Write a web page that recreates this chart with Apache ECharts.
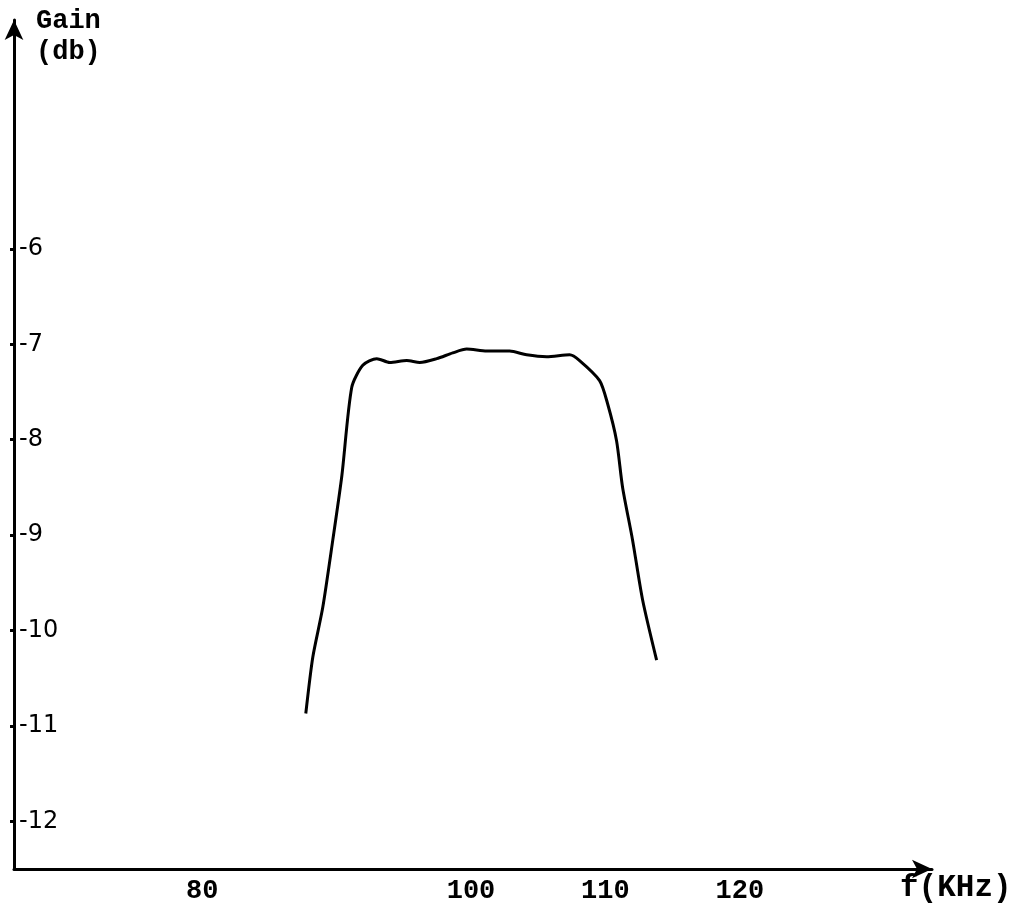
<!DOCTYPE html>
<html>
<head>
<meta charset="utf-8">
<script src="https://cdn.jsdelivr.net/npm/echarts@6/dist/echarts.min.js"></script>
<style>
  html, body { margin: 0; padding: 0; background: #fff; }
  #chart { width: 1034px; height: 914px; }
</style>
</head>
<body>
<div id="chart"></div>
<script>
// frequency (kHz) and gain (db)
const freq = [87.71, 88.23, 88.97, 89.72, 90.39, 91.13, 91.95, 92.99, 93.96,
    95.22, 96.19, 97.45, 98.64, 99.68, 101.17, 102.88, 104.14, 105.63, 107.34,
    108.08, 109.57, 110.16, 110.83, 111.28, 112.02, 112.77, 113.81];
const gain = [-10.87, -10.28, -9.76, -9.05, -8.38, -7.45, -7.22, -7.15, -7.19,
    -7.17, -7.19, -7.15, -7.09, -7.05, -7.07, -7.07, -7.11, -7.13, -7.11,
    -7.17, -7.38, -7.62, -8.01, -8.50, -9.05, -9.68, -10.31];
const xTicks = [80, 100, 110, 120];
const yTicks = [-6, -7, -8, -9, -10, -11, -12];

const mono = '"Liberation Mono", "DejaVu Sans Mono", monospace';

const chart = echarts.init(document.getElementById('chart'));
chart.setOption({
    animation: false,
    grid: { left: 14, right: 102, top: 20, bottom: 45 },
    xAxis: {
        type: 'value',
        min: 66,
        max: 134.3,
        splitLine: { show: false },
        axisLine: {
            onZero: false,
            symbol: ['none', 'arrow'],
            symbolSize: [14, 20],
            lineStyle: { color: '#000', width: 3 }
        },
        axisTick: { show: false },
        axisLabel: {
            customValues: xTicks,
            margin: 9,
            color: '#000',
            fontFamily: mono,
            fontWeight: 'bold',
            fontSize: 27
        }
    },
    yAxis: {
        type: 'value',
        min: -12.5,
        max: -3.6,
        splitLine: { show: false },
        axisLine: {
            onZero: false,
            symbol: ['none', 'arrow'],
            symbolSize: [14, 20],
            lineStyle: { color: '#000', width: 3 }
        },
        axisTick: {
            show: true,
            customValues: yTicks,
            length: 4,
            lineStyle: { color: '#000', width: 3 }
        },
        axisLabel: {
            customValues: yTicks,
            inside: true,
            margin: 5,
            color: '#000',
            fontFamily: '"DejaVu Sans", sans-serif',
            fontSize: 24
        }
    },
    graphic: [
        {
            type: 'text',
            left: 36,
            top: 6,
            style: {
                text: 'Gain\n(db)',
                font: 'bold 27px ' + mono,
                lineHeight: 31,
                fill: '#000'
            }
        },
        {
            type: 'text',
            left: 900,
            top: 873,
            style: {
                text: 'f(KHz)',
                font: 'bold 31px ' + mono,
                fill: '#000'
            }
        }
    ],
    series: [{
        type: 'line',
        data: freq.map((f, i) => [f, gain[i]]),
        smooth: 0.25,
        showSymbol: false,
        lineStyle: { color: '#000', width: 3 }
    }]
});
</script>
</body>
</html>
